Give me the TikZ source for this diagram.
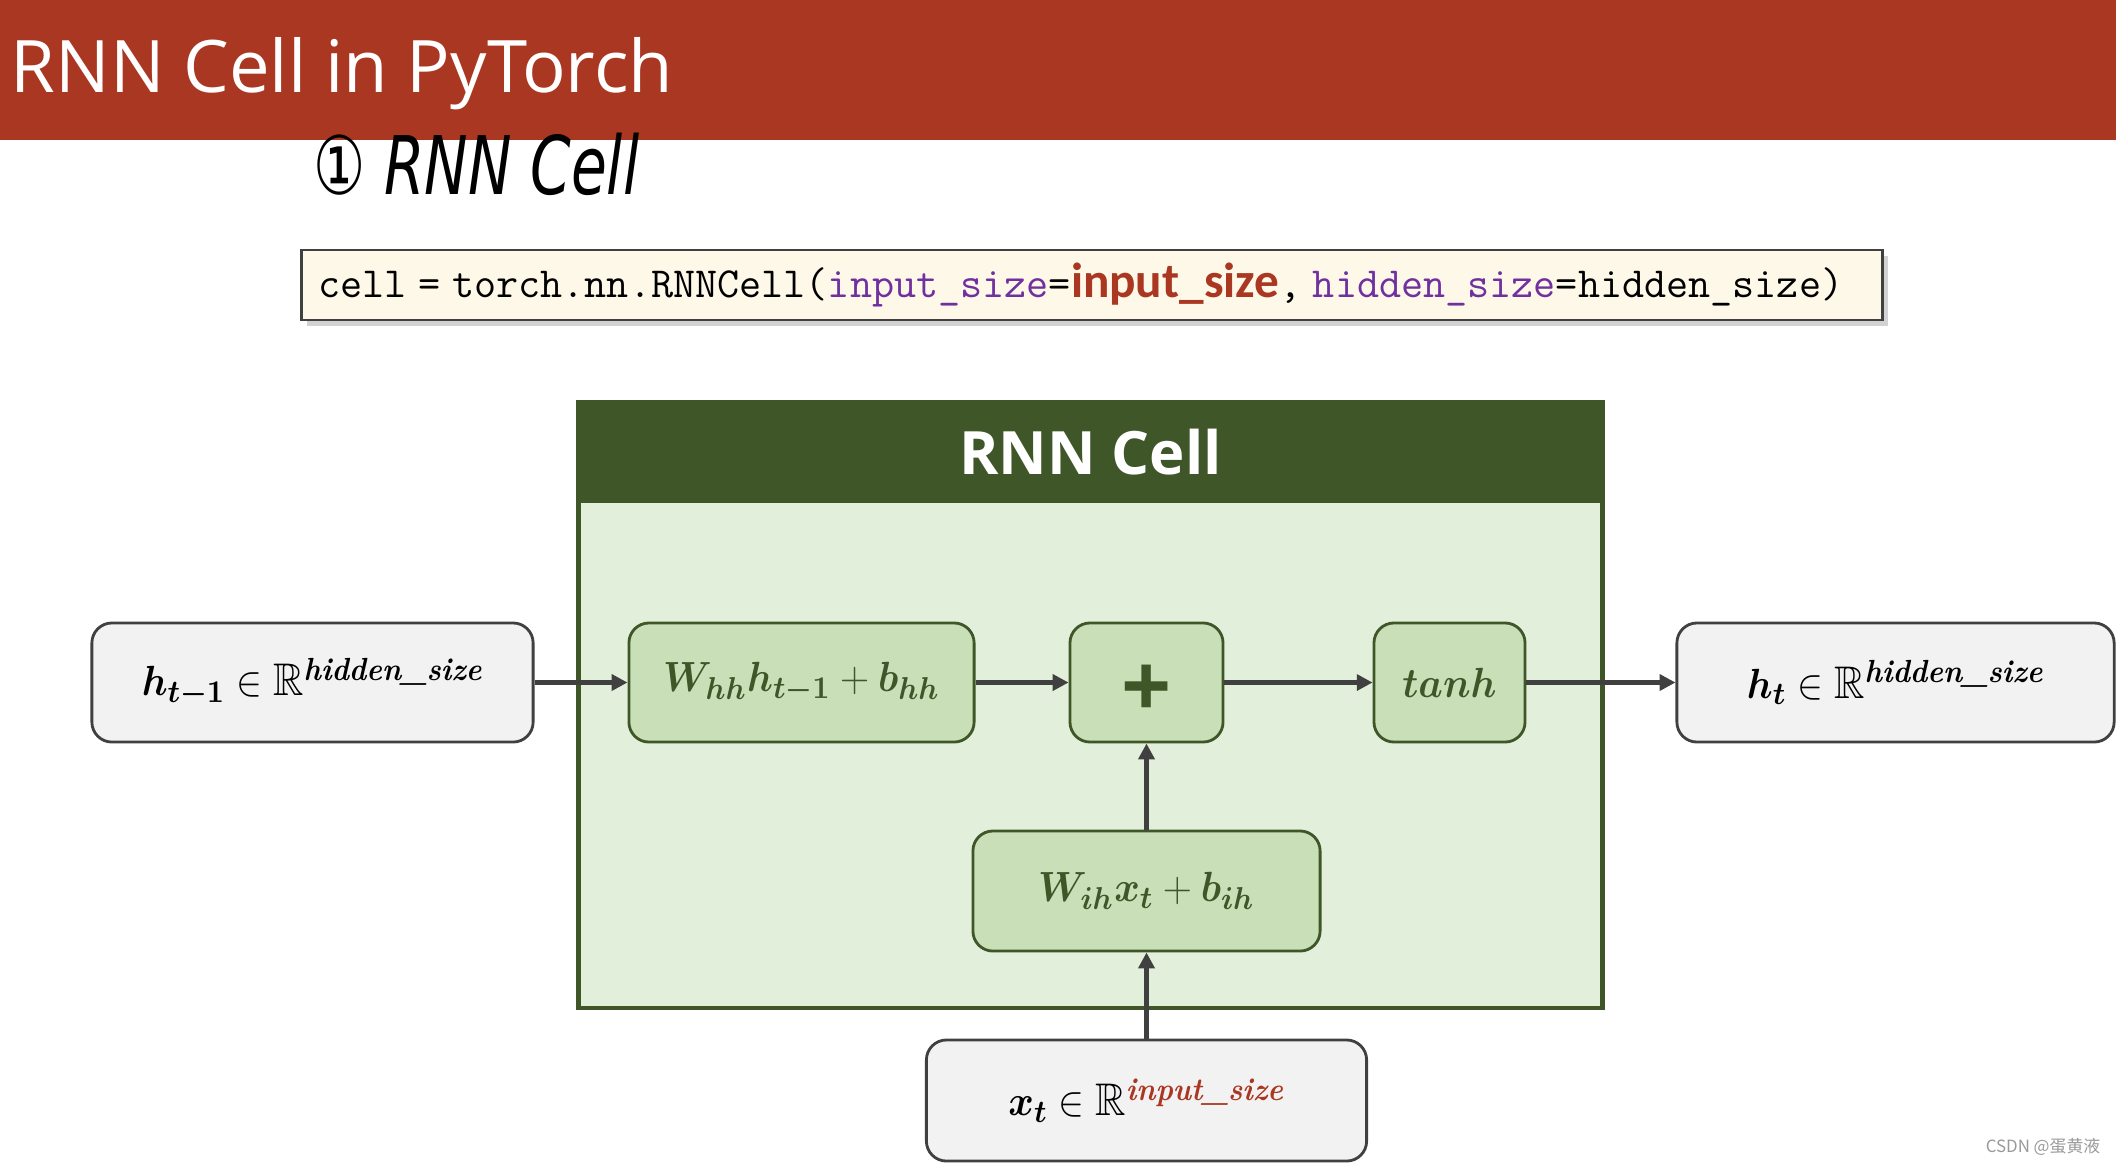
\documentclass[tikz,border=0pt]{standalone}
\usepackage{fontspec}
\usepackage{amsmath,amssymb,bm}
\usepackage{graphicx}
\usepackage{xcolor}
\usetikzlibrary{positioning,arrows.meta,shadows}
\newfontfamily\titlefont{Open Sans}
\newfontfamily\handfont{DejaVu Sans}
\newfontfamily\calfont{Carlito}
\newfontfamily\cjkfont{Noto Sans CJK SC}
\definecolor{slidered}{RGB}{169,55,33}
\definecolor{celldark}{RGB}{63,86,41}
\definecolor{cellbody}{RGB}{226,239,218}
\definecolor{opfill}{RGB}{201,223,184}
\definecolor{iofill}{RGB}{242,242,242}
\definecolor{iodraw}{RGB}{64,64,64}
\definecolor{codebg}{RGB}{253,248,232}
\definecolor{kwpurple}{RGB}{112,48,160}
\newcommand{\boxmath}[1]{\scalebox{0.92}[1]{#1}}

\begin{document}
\begin{tikzpicture}[x=0.01cm,y=-0.01cm,
    iobox/.style={draw=iodraw,fill=iofill,line width=0.8pt,rounded corners=0.2cm,
        minimum height=1.19cm,font=\fontsize{13}{16}\selectfont},
    opbox/.style={draw=celldark,fill=opfill,line width=0.8pt,rounded corners=0.2cm,
        minimum height=1.19cm,text=celldark,font=\fontsize{13}{16}\selectfont},
    flow/.style={-{Triangle[length=4.5pt,width=4.5pt]},draw=iodraw,line width=1.3pt}]
    \useasboundingbox (0,0) rectangle (2116,1163);
    % slide title
    \fill[slidered] (0,0) rectangle (2116,140);
    \node[anchor=base west, inner sep=0, text=white, font=\titlefont\fontsize{20.6}{24}\selectfont] (title) at (10,92) {RNN Cell in PyTorch};
    \node[anchor=base west, inner sep=0] (handnote) at (313,194) {\scalebox{0.72}[1]{\handfont\fontsize{23}{24}\selectfont ①\ \itshape RNN Cell}};
    % code line
    \node[anchor=west, draw=iodraw, fill=codebg, line width=0.8pt, text width=15.46cm, align=left,
        inner xsep=0.17cm, minimum height=0.7cm,
        drop shadow={shadow xshift=0.06cm, shadow yshift=-0.06cm, fill=gray!70}] (code) at (300,285)
        {\ttfamily\fontsize{12.2}{14}\selectfont cell = torch.nn.RNNCell(\textcolor{kwpurple}{input\_size}={\calfont\bfseries\fontsize{14}{14}\selectfont\textcolor{slidered}{input\_size}},~\textcolor{kwpurple}{hidden\_size}=hidden\_size)};
    % the cell
    \node[draw=celldark, fill=cellbody, line width=1.3pt, minimum width=10.23cm, minimum height=6.06cm] (cell) at (1090.5,705) {};
    \node[anchor=north, fill=celldark, minimum width=10.23cm, minimum height=1.03cm, text=white,
        font=\titlefont\bfseries\fontsize{17}{20}\selectfont] (cellhead) at (cell.north) {RNN Cell};
    % boxes
    \node[iobox, minimum width=4.41cm] (hprev) at (312.5,682.5) {\boxmath{$\bm{h_{t-1}}\in\mathbb{R}^{\text{\bfseries\itshape hidden\_size}}$}};
    \node[opbox, minimum width=3.45cm] (whh) at (801.5,682.5) {\boxmath{$\bm{W_{hh}h_{t-1}}+\bm{b_{hh}}$}};
    \node[opbox, minimum width=1.53cm, font=\titlefont\bfseries\fontsize{25}{26}\selectfont] (plus) at (1146.5,682.5) {\smash{\raisebox{-10pt}{+}}};
    \node[opbox, minimum width=1.51cm] (tanh) at (1449.5,682.5) {\boxmath{$\bm{tanh}$}};
    \node[iobox, minimum width=4.37cm] (ht) at (1895.5,682.5) {\boxmath{$\bm{h_t}\in\mathbb{R}^{\text{\bfseries\itshape hidden\_size}}$}};
    \node[opbox, minimum width=3.47cm, minimum height=1.2cm] (wih) at (1146.5,891) {\boxmath{$\bm{W_{ih}x_t}+\bm{b_{ih}}$}};
    \node[iobox, minimum width=4.4cm, minimum height=1.21cm] (xt) at (1146.5,1100.5) {\boxmath{$\bm{x_t}\in\mathbb{R}^{\text{\color{slidered}\bfseries\itshape input\_size}}$}};
    % connectors
    \draw[flow] (hprev) -- (whh);
    \draw[flow] (whh) -- (plus);
    \draw[flow] (plus) -- (tanh);
    \draw[flow] (tanh) -- (ht);
    \draw[flow] (xt) -- (wih);
    \draw[flow] (wih) -- (plus);
    % watermark
    \node[anchor=base east, inner sep=0, text=gray!80, font=\cjkfont\fontsize{4.8}{5}\selectfont] (mark) at (2101,1152) {CSDN @蛋黄液};
\end{tikzpicture}
\end{document}
